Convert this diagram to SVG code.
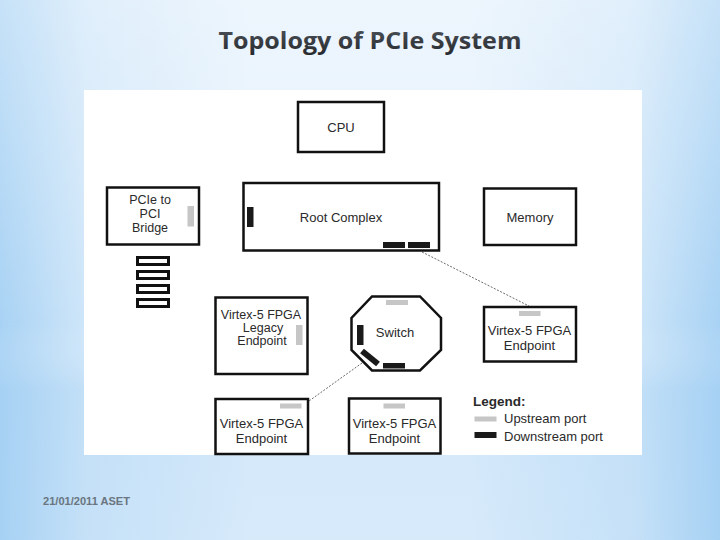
<svg xmlns="http://www.w3.org/2000/svg" width="720" height="540" viewBox="0 0 720 540">
<defs>
<linearGradient id="bg" x1="0" y1="0" x2="1" y2="0">
<stop offset="0" stop-color="#a8d2f4"/>
<stop offset="0.12" stop-color="#cfe6f9"/>
<stop offset="0.35" stop-color="#e4f1fc"/>
<stop offset="0.65" stop-color="#e4f1fc"/>
<stop offset="0.88" stop-color="#cfe6f9"/>
<stop offset="1" stop-color="#a8d2f4"/>
</linearGradient>
<linearGradient id="bgv" x1="0" y1="0" x2="0" y2="1">
<stop offset="0" stop-color="#ffffff" stop-opacity="0.35"/>
<stop offset="0.6" stop-color="#ffffff" stop-opacity="0"/>
<stop offset="0.72" stop-color="#9fcdf2" stop-opacity="0.25"/>
<stop offset="1" stop-color="#9fcdf2" stop-opacity="0.2"/>
</linearGradient>
<linearGradient id="tg" x1="0" y1="0" x2="0" y2="1">
<stop offset="0" stop-color="#52575e"/>
<stop offset="1" stop-color="#25292e"/>
</linearGradient>
<style>
.box{fill:#fff;stroke:#111;stroke-width:2.5}
.lbl{font-family:"Liberation Sans",Arial,sans-serif;font-size:13px;fill:#2a2a2a;text-anchor:middle}
.sm{font-size:12.5px}
.up{fill:#c6c6c6}
.dn{fill:#1a1a1a}
.conn{stroke:#444;stroke-width:0.8;stroke-dasharray:2 1.5;fill:none}
</style>
</defs>
<rect x="0" y="0" width="720" height="540" fill="url(#bg)"/>
<rect x="0" y="0" width="720" height="540" fill="url(#bgv)"/>
<text x="370" y="49" font-family="'Open Sans','DejaVu Sans',sans-serif" font-weight="bold" font-size="24" fill="url(#tg)" text-anchor="middle" textLength="303" lengthAdjust="spacingAndGlyphs">Topology of PCIe System</text>
<rect x="84" y="90" width="558" height="365" fill="#fff"/>

<g id="connectors">
<line class="conn" x1="422" y1="252" x2="529" y2="306"/>
<line class="conn" x1="362" y1="363" x2="309" y2="401"/>
</g>

<g id="cpu">
<rect class="box" x="298" y="102" width="86" height="50" stroke-width="3"/>
<text class="lbl" x="341" y="132">CPU</text>
</g>

<g id="root-complex">
<rect class="box" x="243.5" y="183" width="195.5" height="67.5" stroke-width="2"/>
<rect class="dn" x="247" y="207" width="6.5" height="20"/>
<rect class="dn" x="383" y="242" width="22" height="6"/>
<rect class="dn" x="408" y="242" width="22" height="6"/>
<text class="lbl" x="341" y="221.5">Root Complex</text>
</g>

<g id="memory">
<rect class="box" x="484" y="188.5" width="92" height="56.5"/>
<text class="lbl" x="530" y="221.5">Memory</text>
</g>

<g id="bridge">
<rect class="box" x="107" y="187.5" width="92" height="57" stroke-width="2.7"/>
<rect class="up" x="187.5" y="206" width="6.5" height="20.5"/>
<text class="lbl sm" x="150" y="204">PCIe to</text>
<text class="lbl sm" x="150" y="218">PCI</text>
<text class="lbl sm" x="150" y="232">Bridge</text>
</g>

<g id="pci-slots" fill="#fff" stroke="#111" stroke-width="3">
<rect x="137.5" y="257.5" width="31" height="7"/>
<rect x="137.5" y="271.5" width="31" height="7"/>
<rect x="137.5" y="285.5" width="31" height="7"/>
<rect x="137.5" y="299.5" width="31" height="7"/>
</g>

<g id="legacy-endpoint">
<rect class="box" x="215.5" y="297.5" width="92" height="76.5"/>
<rect class="up" x="296" y="325" width="6.5" height="20"/>
<text class="lbl sm" x="261" y="318.5">Virtex-5 FPGA</text>
<text class="lbl sm" x="263" y="331.5">Legacy</text>
<text class="lbl sm" x="262" y="344.5">Endpoint</text>
</g>

<g id="switch">
<polygon points="372,296.5 420,296.5 441,318 441,350 420,370.5 372,370.5 351.5,350 351.5,318" fill="#fff" stroke="#111" stroke-width="2.5"/>
<rect class="up" x="386" y="300" width="22" height="5"/>
<rect class="dn" x="357" y="325" width="6.5" height="20"/>
<rect class="dn" x="383" y="363" width="22" height="5.5"/>
<line x1="362" y1="351" x2="378" y2="364" stroke="#1a1a1a" stroke-width="6"/>
<text class="lbl" x="395" y="337">Switch</text>
</g>

<g id="endpoint-right">
<rect class="box" x="484" y="307" width="92" height="54.5"/>
<rect class="up" x="519" y="311" width="21.5" height="5"/>
<text class="lbl" x="529.5" y="335">Virtex-5 FPGA</text>
<text class="lbl" x="529.5" y="349.5">Endpoint</text>
</g>

<g id="endpoint-bottom-left">
<rect class="box" x="215.5" y="399" width="92.5" height="55"/>
<rect class="up" x="280" y="403.5" width="21.5" height="5"/>
<text class="lbl" x="261.5" y="428">Virtex-5 FPGA</text>
<text class="lbl" x="261.5" y="443">Endpoint</text>
</g>

<g id="endpoint-bottom-mid">
<rect class="box" x="349" y="398.5" width="91.5" height="55"/>
<rect class="up" x="383.5" y="403.5" width="21.5" height="5"/>
<text class="lbl" x="394.5" y="428">Virtex-5 FPGA</text>
<text class="lbl" x="394.5" y="443">Endpoint</text>
</g>

<g id="legend">
<text x="473" y="405.5" font-family="'Liberation Sans',Arial,sans-serif" font-size="13.5" font-weight="bold" fill="#2a2a2a">Legend:</text>
<rect class="up" x="474.5" y="416.5" width="22" height="5"/>
<text x="504" y="422.5" font-family="'Liberation Sans',Arial,sans-serif" font-size="13" fill="#2a2a2a">Upstream port</text>
<rect class="dn" x="474.5" y="432" width="22" height="6"/>
<text x="504" y="440.5" font-family="'Liberation Sans',Arial,sans-serif" font-size="13" fill="#2a2a2a">Downstream port</text>
</g>

<text x="43" y="504.5" font-family="'Liberation Sans',Arial,sans-serif" font-weight="bold" font-size="10.5" fill="#6a7580" textLength="87" lengthAdjust="spacingAndGlyphs">21/01/2011 ASET</text>
</svg>
